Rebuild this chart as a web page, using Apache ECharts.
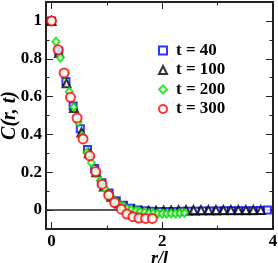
<!DOCTYPE html>
<html>
<head>
<meta charset="utf-8">
<script src="https://cdn.jsdelivr.net/npm/echarts@6/dist/echarts.min.js"></script>
<style>
html,body{margin:0;padding:0;background:#fff;}
#c{width:278px;height:263px;}
</style>
</head>
<body>
<div id="c"></div>
<script>
// ---- data ----
var seriesNames = ['t = 40', 't = 100', 't = 200', 't = 300'];

var rBlue = [0,0.13,0.26,0.39,0.52,0.65,0.78,0.91,1.04,1.17,1.30,1.43,1.56,1.69,1.82,1.95,2.08,2.21,2.34,2.47,2.60,2.73,2.86,2.99,3.12,3.25,3.38,3.51,3.64,3.77,3.90];
var cBlue = [1.0,0.84,0.68,0.55,0.43,0.32,0.22,0.145,0.09,0.05,0.025,0.01,0.0,-0.004,-0.006,-0.007,-0.007,-0.007,-0.006,-0.006,-0.006,-0.005,-0.005,-0.005,-0.004,-0.004,-0.004,-0.003,-0.003,-0.002,0.0];

var rBlack = [0,0.135,0.27,0.405,0.54,0.675,0.81,0.945,1.08,1.215,1.35,1.485,1.62,1.755,1.89,2.025,2.16,2.295,2.43,2.565,2.70,2.835,2.97,3.105,3.24,3.375,3.51,3.645,3.78];
var cBlack = [1.0,0.83,0.67,0.54,0.41,0.30,0.20,0.125,0.07,0.035,0.012,0.0,-0.004,-0.005,-0.004,-0.003,-0.002,-0.001,0.0,0.0,0.0,0.0,0.0,0.0,0.0,0.0,0.0,0.0,0.0];

var rGreen = [0,0.08,0.16,0.24,0.32,0.40,0.48,0.56,0.64,0.72,0.80,0.88,0.96,1.04,1.12,1.20,1.28,1.36,1.44,1.52,1.60,1.68,1.76,1.84,1.92,2.00,2.08,2.16,2.24,2.32,2.40];
var cGreen = [1.0,0.89,0.806,0.72,0.625,0.545,0.465,0.39,0.305,0.25,0.195,0.155,0.115,0.082,0.057,0.038,0.02,0.008,0.002,-0.004,-0.008,-0.012,-0.015,-0.017,-0.018,-0.019,-0.019,-0.018,-0.018,-0.017,-0.016];

var rRed = [0,0.119,0.227,0.342,0.461,0.569,0.69,0.798,0.912,1.032,1.14,1.26,1.362,1.47,1.578,1.699,1.82];
var cRed = [1.0,0.847,0.725,0.596,0.487,0.376,0.287,0.204,0.137,0.079,0.04,0.005,-0.021,-0.035,-0.042,-0.044,-0.044];

var xMajorTicks = [0,2,4];
var xMinorTicks = [1,3];
var yMajorTicks = [0,0.2,0.4,0.6,0.8,1];
var yMinorTicks = [-0.1,0.1,0.3,0.5,0.7,0.9];

// ---- chart ----
function pairs(xs, ys){ return xs.map(function(x,i){ return [x, ys[i]]; }); }

var XMIN=-0.1, XMAX=4, YMIN=-0.1, YMAX=1.1;
var axisColor = '#222';
var FONT = 'Liberation Serif';

function xAx(pos, ticks, len, showLine, showLabel, name){
  var a = {
    type:'value', position:pos, min:XMIN, max:XMAX,
    axisLine:{show:showLine, onZero:false, lineStyle:{color:axisColor, width:2}},
    axisTick:{show:true, inside:true, length:len, customValues:ticks, lineStyle:{color:axisColor, width:1}},
    axisLabel:{show:showLabel, customValues:ticks, margin:4, fontFamily:FONT, fontWeight:'bold', fontSize:17, color:'#000'},
    splitLine:{show:false}
  };
  if(name){
    a.name = name; a.nameLocation='middle'; a.nameGap = 21; a.nameMoveOverlap = false;
    a.nameTextStyle = {fontFamily:FONT, fontWeight:'bold', fontStyle:'italic', fontSize:18, color:'#000'};
  }
  return a;
}
function yAx(pos, ticks, len, showLine, showLabel, name){
  var a = {
    type:'value', position:pos, min:YMIN, max:YMAX,
    axisLine:{show:showLine, onZero:false, lineStyle:{color:axisColor, width:2}},
    axisTick:{show:true, inside:true, length:len, customValues:ticks, lineStyle:{color:axisColor, width:1}},
    axisLabel:{show:showLabel, customValues:ticks, margin:4, fontFamily:FONT, fontWeight:'bold', fontSize:17, color:'#000'},
    splitLine:{show:false}
  };
  if(name){
    a.name = name; a.nameLocation='middle'; a.nameGap = 26; a.nameMoveOverlap = false;
    a.nameTextStyle = {fontFamily:FONT, fontWeight:'bold', fontStyle:'italic', fontSize:20, color:'#000'};
  }
  return a;
}

var colors = ['#0000ff','#000000','#00e000','#ff0000'];
var symbols = ['emptyRect','emptyTriangle','emptyDiamond','emptyCircle'];
var sizes = [7,8,[7,8],9];
var datas = [pairs(rBlue,cBlue), pairs(rBlack,cBlack), pairs(rGreen,cGreen), pairs(rRed,cRed)];

var series = datas.map(function(d,i){
  return {
    name: seriesNames[i], type:'scatter', data:d,
    xAxisIndex:0, yAxisIndex:0,
    symbol: symbols[i], symbolSize: sizes[i],
    itemStyle:{color:colors[i], borderColor:colors[i], borderWidth:1.3},
    z: 2+i
  };
});
series.unshift({
  type:'line', data:[[XMIN,0],[XMAX,0]], xAxisIndex:0, yAxisIndex:0,
  symbol:'none', lineStyle:{color:'#222', width:1.5}, silent:true, z:1
});

var chart = echarts.init(document.getElementById('c'), null, {renderer:'canvas'});
chart.setOption({
  animation:false,
  backgroundColor:'#fff',
  grid:{left:46, top:2, right:5, bottom:34, containLabel:false, outerBoundsMode:'none'},
  legend:{
    orient:'vertical', left:153, top:37, itemWidth:8, itemHeight:8, itemGap:2.5,
    data: seriesNames,
    textStyle:{fontFamily:FONT, fontWeight:'bold', fontSize:17, color:'#000', lineHeight:17, padding:[0,0,0,4]}
  },
  xAxis:[
    xAx('bottom', xMajorTicks, 7, true, true, 'r/l'),
    xAx('bottom', xMinorTicks, 3.5, false, false),
    xAx('top', xMajorTicks, 7, true, false),
    xAx('top', xMinorTicks, 3.5, false, false)
  ],
  yAxis:[
    yAx('left', yMajorTicks, 7, true, true, 'C(r, t)'),
    yAx('left', yMinorTicks, 3.5, false, false),
    yAx('right', yMajorTicks, 7, true, false),
    yAx('right', yMinorTicks, 3.5, false, false)
  ],
  series: series
});
</script>
</body>
</html>
